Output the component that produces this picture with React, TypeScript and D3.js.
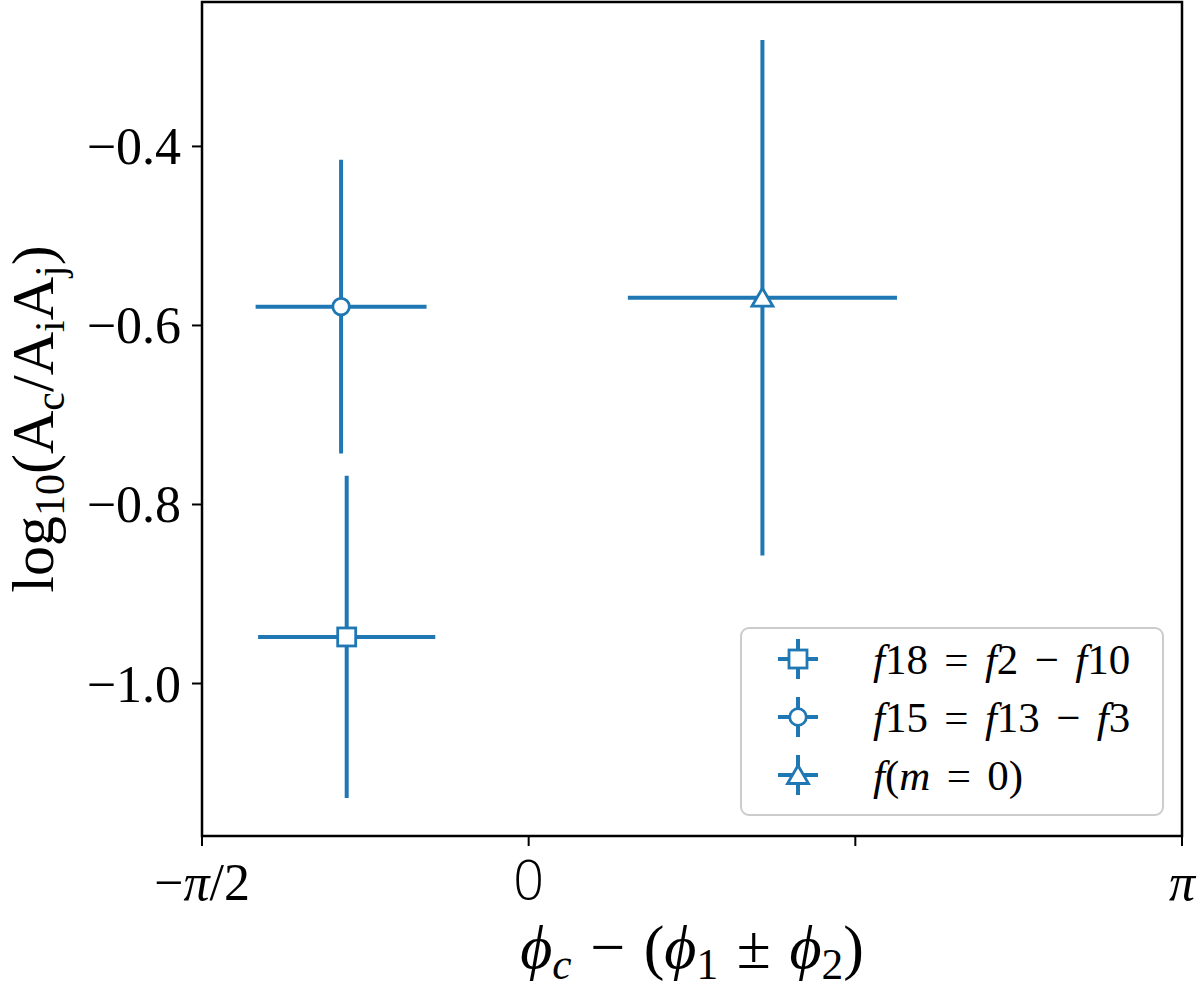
import React from 'react'
import * as d3 from 'd3'

// values
const seriesLabels = ['f18 = f2 − f10', 'f15 = f13 − f3', 'f(m = 0)']
const seriesMarkers = ['square', 'circle', 'triangle']
const phaseValues = [-0.875, -0.902, 1.124]
const phaseErrors = [0.426, 0.411, 0.647]
const ratioValues = [-0.948, -0.579, -0.569]
const ratioErrors = [0.18, 0.164, 0.288]

const xTickValues = [-Math.PI / 2, 0, Math.PI / 2, Math.PI]
const xTickLabels = ['−π/2', '0', '', 'π']
const yTickValues = [-1.0, -0.8, -0.6, -0.4]

const xLabel = 'ϕ_c − (ϕ_1 ± ϕ_2)'
const yLabel = 'log_{10}(A_c/A_iA_j)'

const BLUE = '#1f77b4'
const SERIF = '"Liberation Serif", "DejaVu Serif", serif'

const width = 1200
const height = 991
const margin = { top: 2, right: 18, bottom: 155, left: 202 }

type Seg = { text: string; italic: boolean; sub: boolean; dx: number }

// tiny mathtext: "_x" or "_{xy}" is a subscript, spaces become gaps
function parseMath(src: string, roman: boolean, gap: number): Seg[] {
  const segs: Seg[] = []
  let dx = 0
  const push = (c: string, sub: boolean) => {
    const italic = !roman && /[A-Za-zϕπ]/.test(c)
    const last = segs[segs.length - 1]
    if (last && dx === 0 && last.italic === italic && last.sub === sub) last.text += c
    else segs.push({ text: c, italic, sub, dx })
    dx = 0
  }
  for (let i = 0; i < src.length; i++) {
    const c = src[i]
    if (c === ' ') {
      dx += gap
    } else if (c === '_') {
      if (src[i + 1] === '{') {
        const end = src.indexOf('}', i)
        for (const s of src.slice(i + 2, end)) push(s, true)
        i = end
      } else {
        push(src[i + 1], true)
        i++
      }
    } else push(c, false)
  }
  return segs
}

interface MathTextProps extends React.SVGProps<SVGTextElement> {
  src: string
  fs: number
  roman?: boolean
  gap?: number
}

const MathText: React.FC<MathTextProps> = ({ src, fs, roman = false, gap = 0.3, ...rest }) => {
  const segs = parseMath(src, roman, gap)
  let shift = 0
  return (
    <text {...rest} fontSize={fs} fontFamily={SERIF}>
      {segs.map((s, i) => {
        const target = s.sub ? fs * 0.18 : 0
        const dy = target - shift
        shift = target
        return (
          <tspan
            key={i}
            dx={s.dx ? s.dx * fs : undefined}
            dy={dy ? dy : undefined}
            fontSize={s.sub ? fs * 0.7 : fs}
            fontStyle={s.italic ? 'italic' : 'normal'}
          >
            {s.text}
          </tspan>
        )
      })}
    </text>
  )
}

const Marker: React.FC<{ shape: string; x: number; y: number }> = ({ shape, x, y }) => {
  const common = { fill: 'white', stroke: BLUE, strokeWidth: 2.8 }
  if (shape === 'square') return <rect x={x - 9} y={y - 9} width={18} height={18} {...common} />
  if (shape === 'circle') return <circle cx={x} cy={y} r={8.3} {...common} />
  const tri = d3.path()
  tri.moveTo(x, y - 9.5)
  tri.lineTo(x + 10.5, y + 8.5)
  tri.lineTo(x - 10.5, y + 8.5)
  tri.closePath()
  return <path d={tri.toString()} {...common} strokeLinejoin="miter" />
}

const ErrorCross: React.FC<{ shape: string; x: number; y: number; x0: number; x1: number; y0: number; y1: number }> = ({
  shape,
  x,
  y,
  x0,
  x1,
  y0,
  y1,
}) => (
  <g>
    <line x1={x0} x2={x1} y1={y} y2={y} stroke={BLUE} strokeWidth={4} />
    <line x1={x} x2={x} y1={y0} y2={y1} stroke={BLUE} strokeWidth={4} />
    <Marker shape={shape} x={x} y={y} />
  </g>
)

export default function App() {
  const innerWidth = width - margin.left - margin.right
  const innerHeight = height - margin.top - margin.bottom

  const lo = d3.min(ratioValues, (v, i) => v - ratioErrors[i]) as number
  const hi = d3.max(ratioValues, (v, i) => v + ratioErrors[i]) as number
  const pad = (hi - lo) * 0.05

  const xScale = d3.scaleLinear().domain([-Math.PI / 2, Math.PI]).range([0, innerWidth])
  const yScale = d3.scaleLinear().domain([lo - pad, hi + pad]).range([innerHeight, 0])

  // legend box
  const lg = { x: 741 - margin.left, y: 628 - margin.top, w: 422, h: 187 }
  const rowY = (i: number) => lg.y + 31 + i * 58

  return (
    <svg width={width} height={height} style={{ position: 'absolute', left: 0, top: 0, background: 'white' }}>
      <g transform={`translate(${margin.left},${margin.top})`}>
        {phaseValues.map((v, i) => (
          <ErrorCross
            key={i}
            shape={seriesMarkers[i]}
            x={xScale(v)}
            y={yScale(ratioValues[i])}
            x0={xScale(v - phaseErrors[i])}
            x1={xScale(v + phaseErrors[i])}
            y0={yScale(ratioValues[i] + ratioErrors[i])}
            y1={yScale(ratioValues[i] - ratioErrors[i])}
          />
        ))}

        {/* legend */}
        <rect x={lg.x} y={lg.y} width={lg.w} height={lg.h} rx={8} fill="white" fillOpacity={0.8} stroke="#cccccc" strokeWidth={2} />
        {seriesLabels.map((label, i) => {
          const cx = lg.x + 57
          const cy = rowY(i)
          return (
            <g key={label}>
              <ErrorCross shape={seriesMarkers[i]} x={cx} y={cy} x0={cx - 20} x1={cx + 20} y0={cy - 20} y1={cy + 20} />
              <MathText src={label} fs={43} gap={0.38} x={lg.x + 132} y={cy + 15} />
            </g>
          )
        })}

        {/* spines */}
        <rect x={0} y={0} width={innerWidth} height={innerHeight} fill="none" stroke="black" strokeWidth={2.5} />

        {/* x axis */}
        {xTickValues.map((t, i) => (
          <g key={i} transform={`translate(${xScale(t)},${innerHeight})`}>
            <line y1={0} y2={10} stroke="black" strokeWidth={2} />
            {xTickLabels[i] === '0' ? (
              <text y={63} textAnchor="middle" fontSize={54} fontFamily='"DejaVu Sans", sans-serif' fontWeight={300}>
                0
              </text>
            ) : (
              <MathText src={xTickLabels[i]} fs={52} gap={0} y={64} textAnchor="middle" />
            )}
          </g>
        ))}
        <MathText src={xLabel} fs={62} gap={0.3} x={innerWidth / 2} y={968 - margin.top} textAnchor="middle" />

        {/* y axis */}
        {yTickValues.map((t) => (
          <g key={t} transform={`translate(0,${yScale(t)})`}>
            <line x1={-10} x2={0} stroke="black" strokeWidth={2} />
            <text x={-21} y={18} textAnchor="end" fontSize={52} fontFamily={SERIF}>
              {d3.format('.1f')(t).replace('-', '−')}
            </text>
          </g>
        ))}
        <MathText
          src={yLabel}
          fs={60}
          roman
          gap={0}
          textAnchor="middle"
          transform={`translate(${53 - margin.left},${innerHeight / 2}) rotate(-90)`}
        />
      </g>
    </svg>
  )
}
